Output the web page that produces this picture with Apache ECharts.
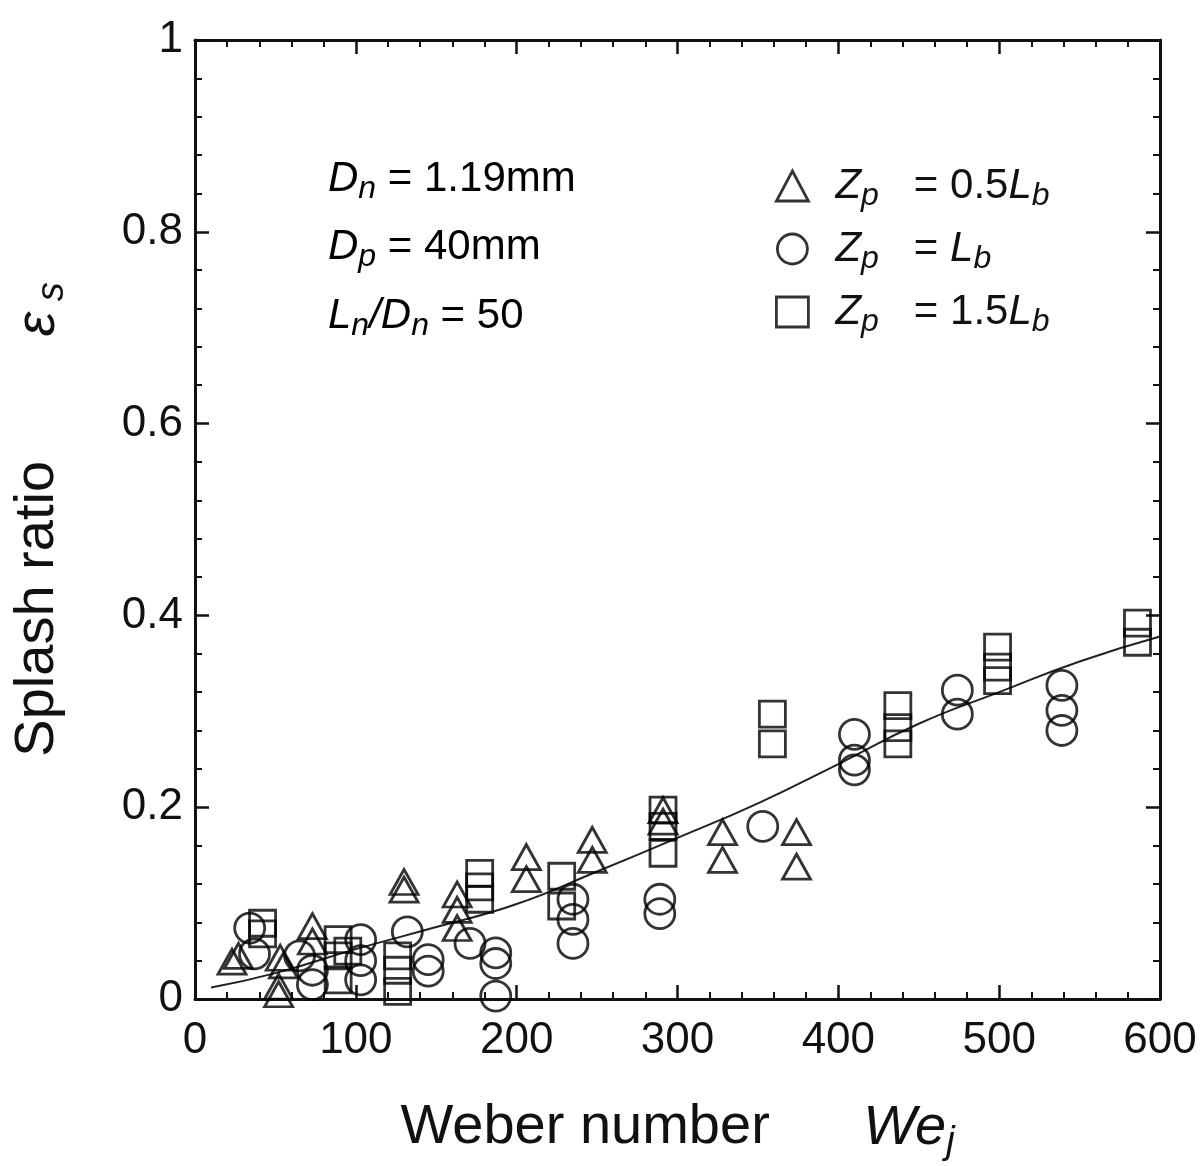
<!DOCTYPE html>
<html><head><meta charset="utf-8">
<script src="https://cdn.jsdelivr.net/npm/echarts@6/dist/echarts.min.js"></script>
<style>html,body{margin:0;padding:0;background:#fff}#c{width:1203px;height:1166px}</style>
</head><body><div id="c"></div>
<script>
// Zp = 0.5Lb (triangles)
const triX = [23, 27, 52, 52, 53, 55, 73, 73, 130, 130, 163, 163, 163, 206, 206, 247, 247, 291, 291, 328, 328, 374, 374];
const triY = [0.039, 0.045, 0.013, 0.005, 0.043, 0.035, 0.076, 0.060, 0.114, 0.122, 0.109, 0.093, 0.074, 0.148, 0.125, 0.166, 0.145, 0.197, 0.185, 0.174, 0.145, 0.174, 0.138];
// Zp = Lb (circles)
const cirX = [34, 37, 65, 73, 73, 103, 103, 103, 132, 145, 145, 171, 187, 187, 187, 235, 235, 235, 289, 289, 353, 410, 410, 410, 474, 474, 539, 539, 539];
const cirY = [0.074, 0.047, 0.045, 0.030, 0.015, 0.062, 0.040, 0.020, 0.070, 0.041, 0.029, 0.058, 0.048, 0.037, 0.003, 0.104, 0.083, 0.058, 0.104, 0.089, 0.180, 0.276, 0.249, 0.239, 0.322, 0.297, 0.327, 0.301, 0.280];
// Zp = 1.5Lb (squares)
const sqX = [42, 42, 89, 89, 89, 95, 126, 126, 126, 177, 177, 177, 228, 228, 291, 291, 291, 359, 359, 437, 437, 437, 499, 499, 499, 586, 586];
const sqY = [0.079, 0.068, 0.062, 0.045, 0.020, 0.050, 0.045, 0.030, 0.008, 0.131, 0.117, 0.104, 0.128, 0.097, 0.197, 0.180, 0.152, 0.297, 0.266, 0.306, 0.283, 0.266, 0.367, 0.346, 0.332, 0.392, 0.372];
// fitted curve
const fitX = [10, 50, 100, 150, 200, 250, 300, 350, 400, 450, 500, 550, 600];
const fitY = [0.012, 0.027, 0.052, 0.075, 0.099, 0.133, 0.168, 0.204, 0.245, 0.287, 0.320, 0.352, 0.378];
const xTicks = [0, 100, 200, 300, 400, 500, 600];
const yTicks = [0, 0.2, 0.4, 0.6, 0.8, 1];
const seriesNames = ['tri', 'cir', 'sq'];

const zip = (a, b) => a.map((v, i) => [v, b[i]]);
const FONT = 'Liberation Sans, Arial, sans-serif';
const mk = {color: 'transparent', borderColor: '#000', borderWidth: 2.8};

const chart = echarts.init(document.getElementById('c'));
const axisCommon = {
  axisLine: {onZero: false, lineStyle: {color: '#111', width: 3}},
  axisTick: {inside: true, length: 14, lineStyle: {color: '#111', width: 2.5}},
  minorTick: {show: true, splitNumber: 5, length: 7, lineStyle: {color: '#111', width: 2}},
  splitLine: {show: false}
};
const richName = {
  n: {fontFamily: FONT, fontSize: 56, color: '#111', lineHeight: 66, verticalAlign: 'middle'},
  e: {fontFamily: FONT, fontSize: 56, fontStyle: 'italic', color: '#111', lineHeight: 66, verticalAlign: 'middle'},
  s: {fontFamily: FONT, fontSize: 38, fontStyle: 'italic', color: '#111', lineHeight: 34, verticalAlign: 'bottom'}
};
const richTxt = {
  t: {fontFamily: FONT, fontSize: 42, color: '#111', lineHeight: 52, verticalAlign: 'middle'},
  i: {fontFamily: FONT, fontSize: 42, fontStyle: 'italic', color: '#111', lineHeight: 52, verticalAlign: 'middle'},
  s: {fontFamily: FONT, fontSize: 32, fontStyle: 'italic', color: '#111', lineHeight: 26, verticalAlign: 'bottom'}
};
const legendText = {
  tri: '{i|Z}{s|p}{t|   = 0.5}{i|L}{s|b}',
  cir: '{i|Z}{s|p}{t|   = }{i|L}{s|b}',
  sq: '{i|Z}{s|p}{t|   = 1.5}{i|L}{s|b}'
};

chart.setOption({
  backgroundColor: '#fff',
  animation: false,
  grid: {left: 195, right: 43, top: 40, bottom: 163, show: false},
  xAxis: [
    Object.assign({}, axisCommon, {
      type: 'value', min: xTicks[0], max: xTicks[xTicks.length - 1], interval: 100, position: 'bottom',
      axisLabel: {fontFamily: FONT, fontSize: 44, color: '#111', margin: 20},
      name: '{n|Weber number      }{e|We}{s|j}', nameLocation: 'middle', nameGap: 96,
      nameTextStyle: {rich: richName}
    }),
    Object.assign({}, axisCommon, {
      type: 'value', min: 0, max: 600, interval: 100, position: 'top', axisLabel: {show: false}
    })
  ],
  yAxis: [
    Object.assign({}, axisCommon, {
      type: 'value', min: yTicks[0], max: yTicks[yTicks.length - 1], interval: 0.2, position: 'left',
      axisLabel: {fontFamily: FONT, fontSize: 44, color: '#111', margin: 12},
      name: '{n|Splash ratio        }{e|ε}{s| s}', nameLocation: 'middle', nameGap: 124, nameRotate: 90,
      nameTextStyle: {rich: richName}
    }),
    Object.assign({}, axisCommon, {
      type: 'value', min: 0, max: 1, interval: 0.2, position: 'right', axisLabel: {show: false}
    })
  ],
  legend: {
    orient: 'vertical', left: 770, top: 160, itemGap: 16, itemWidth: 32, itemHeight: 30,
    data: [
      {name: 'tri', icon: 'triangle'}, {name: 'cir', icon: 'circle'}, {name: 'sq', icon: 'rect'}
    ],
    itemStyle: mk,
    formatter: n => legendText[n],
    textStyle: {rich: richTxt, padding: [0, 0, 0, 22]}
  },
  graphic: [
    {type: 'text', left: 328, top: 158, style: {text: '{i|D}{s|n}{t| = 1.19mm}', rich: richTxt}},
    {type: 'text', left: 328, top: 226, style: {text: '{i|D}{s|p}{t| = 40mm}', rich: richTxt}},
    {type: 'text', left: 328, top: 295, style: {text: '{i|L}{s|n}{i|/D}{s|n}{t| = 50}', rich: richTxt}}
  ],
  series: [
    {name: 'fit', type: 'line', smooth: true, showSymbol: false, data: zip(fitX, fitY),
     lineStyle: {color: '#222', width: 2}, z: 1},
    {name: seriesNames[0], type: 'scatter', symbol: 'triangle', symbolSize: [28, 25], data: zip(triX, triY), itemStyle: mk, z: 3},
    {name: seriesNames[1], type: 'scatter', symbol: 'circle', symbolSize: 30, data: zip(cirX, cirY), itemStyle: mk, z: 3},
    {name: seriesNames[2], type: 'scatter', symbol: 'rect', symbolSize: 26, data: zip(sqX, sqY), itemStyle: mk, z: 3}
  ]
});
</script></body></html>
